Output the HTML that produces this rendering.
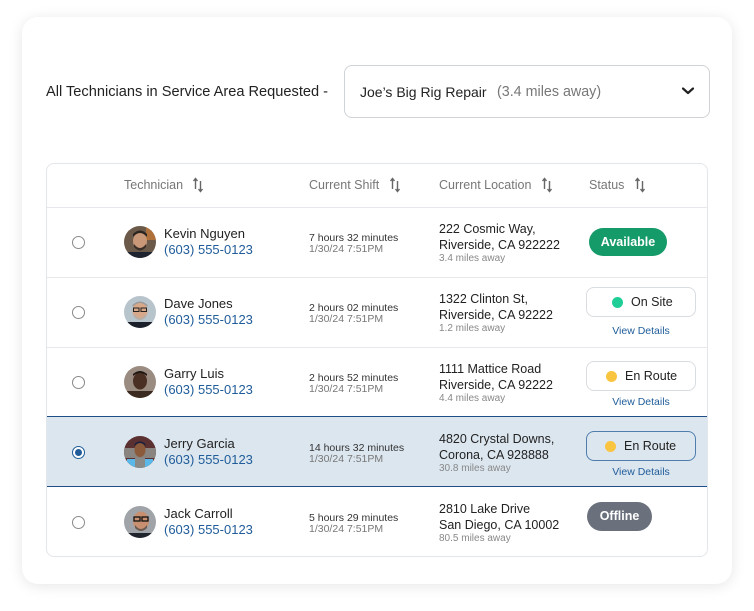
<!DOCTYPE html>
<html><head><meta charset="utf-8"><style>
*{margin:0;padding:0;box-sizing:border-box}
html,body{width:754px;height:611px;background:#fff;overflow:hidden;font-family:"Liberation Sans",Arial,sans-serif;color:#222}
.card{position:absolute;left:22px;top:17px;width:710px;height:567px;background:#fff;border-radius:16px;box-shadow:0 2px 14px rgba(0,0,0,0.10)}
.a{position:absolute;white-space:nowrap}
.title{left:46px;top:83px;font-size:14.6px;line-height:18px;color:#222}
.dd{left:344px;top:65px;width:366px;height:53px;border:1px solid #cfd3d8;border-radius:8px;background:#fff}
.tbl{left:46px;top:163px;width:662px;height:394px;border:1px solid #e3e6ea;border-radius:8px;background:#fff;overflow:hidden}
.hd{font-size:12.5px;color:#777;line-height:16px;top:177px}
.div{position:absolute;left:47px;width:660px;height:1px;background:#e6e8eb}
.sel{position:absolute;left:47px;top:416px;width:660px;height:71px;background:#dce6ef;border-top:1.5px solid #1f4f86;border-bottom:1.5px solid #1f4f86}
.radio{position:absolute;width:13px;height:13px;border:1px solid #8a8a8a;border-radius:50%;background:#fff}
.name{font-size:13px;color:#222;line-height:16px}
.phone{font-size:13px;color:#1f5c99;line-height:16px}
.sh1{font-size:10.5px;color:#333;line-height:13px}
.sh2{font-size:10.5px;color:#777;line-height:13px}
.loc{font-size:12.5px;color:#222;line-height:16px}
.mi{font-size:10px;color:#888;line-height:12px}
.pill{position:absolute;border-radius:15px;color:#fff;font-weight:bold;font-size:12.5px;text-align:center}
.btn{position:absolute;width:110px;height:30px;border:1px solid #d9dde2;border-radius:8px;background:#fff;font-size:12.5px;color:#222;line-height:28px}
.dot{position:absolute;width:11px;height:11px;border-radius:50%;top:9px}
.vd{font-size:10.5px;color:#1f5c99;line-height:13px;width:110px;text-align:center}
</style></head><body>
<div class="card"></div>
<div class="a title">All Technicians in Service Area Requested -</div>
<div class="a dd"></div>
<div class="a" style="left:360px;top:83px;font-size:14px;line-height:18px;color:#222">Joe’s Big Rig Repair</div>
<div class="a" style="left:497px;top:83px;font-size:14.3px;line-height:18px;color:#777">(3.4 miles away)</div>
<svg class="a" style="left:681px;top:86px" width="14" height="10" viewBox="0 0 14 10"><path d="M2 2.5 L7 7 L12 2.5" stroke="#222" stroke-width="2.2" fill="none" stroke-linecap="round" stroke-linejoin="round"/></svg>

<div class="a tbl"></div>
<div class="div" style="top:207px"></div>
<div class="div" style="top:277px"></div>
<div class="div" style="top:347px"></div>
<div class="sel"></div>

<div class="a hd" style="left:124px">Technician</div>
<div class="a hd" style="left:309px">Current Shift</div>
<div class="a hd" style="left:439px">Current Location</div>
<div class="a hd" style="left:589px">Status</div>
<svg class="a" style="left:192px;top:177px" width="12" height="16" viewBox="0 0 12 16"><path d="M3.5 12V2 M1.5 4 L3.5 1.5 L5.5 4" stroke="#666" stroke-width="1.4" fill="none"/><path d="M8.5 4v10 M6.5 12 L8.5 14.5 L10.5 12" stroke="#666" stroke-width="1.4" fill="none"/></svg>
<svg class="a" style="left:389px;top:177px" width="12" height="16" viewBox="0 0 12 16"><path d="M3.5 12V2 M1.5 4 L3.5 1.5 L5.5 4" stroke="#666" stroke-width="1.4" fill="none"/><path d="M8.5 4v10 M6.5 12 L8.5 14.5 L10.5 12" stroke="#666" stroke-width="1.4" fill="none"/></svg>
<svg class="a" style="left:541px;top:177px" width="12" height="16" viewBox="0 0 12 16"><path d="M3.5 12V2 M1.5 4 L3.5 1.5 L5.5 4" stroke="#666" stroke-width="1.4" fill="none"/><path d="M8.5 4v10 M6.5 12 L8.5 14.5 L10.5 12" stroke="#666" stroke-width="1.4" fill="none"/></svg>
<svg class="a" style="left:634px;top:177px" width="12" height="16" viewBox="0 0 12 16"><path d="M3.5 12V2 M1.5 4 L3.5 1.5 L5.5 4" stroke="#666" stroke-width="1.4" fill="none"/><path d="M8.5 4v10 M6.5 12 L8.5 14.5 L10.5 12" stroke="#666" stroke-width="1.4" fill="none"/></svg>

<!-- radios -->
<div class="radio" style="left:72px;top:236px"></div>
<div class="radio" style="left:72px;top:306px"></div>
<div class="radio" style="left:72px;top:376px"></div>
<div class="radio" style="left:72px;top:446px;border:1.5px solid #1f5c99;background:#fff"><div style="position:absolute;left:2px;top:2px;width:7px;height:7px;border-radius:50%;background:#1f5c99"></div></div>
<div class="radio" style="left:72px;top:516px"></div>

<!-- avatars -->
<svg class="a" style="left:124px;top:226px" width="32" height="32" viewBox="0 0 32 32"><clipPath id="c1"><circle cx="16" cy="16" r="16"/></clipPath><g clip-path="url(#c1)"><rect width="32" height="32" fill="#6b5a4a"/><rect x="22" y="0" width="10" height="14" fill="#b0703a"/><ellipse cx="16" cy="15" rx="7" ry="8.5" fill="#c89878"/><path d="M9 11 Q16 3 23 11 L23 8 Q16 1 9 8Z" fill="#2b2420"/><path d="M10 18 Q16 26 22 18 L22 21 Q16 28 10 21Z" fill="#3a2e28"/><rect x="3" y="26" width="26" height="8" fill="#1e2430"/></g></svg>
<svg class="a" style="left:124px;top:296px" width="32" height="32" viewBox="0 0 32 32"><clipPath id="c2"><circle cx="16" cy="16" r="16"/></clipPath><g clip-path="url(#c2)"><rect width="32" height="32" fill="#b8c4cc"/><ellipse cx="16" cy="15" rx="7.5" ry="9" fill="#d8a88a"/><path d="M8.5 11 Q16 3 23.5 11 L23.5 9 Q16 2 8.5 9Z" fill="#9a9a9a"/><path d="M10 18 Q16 26 22 18 L22 21 Q16 27 10 21Z" fill="#b5b0aa"/><rect x="9.5" y="12" width="5.5" height="3.5" fill="none" stroke="#222" stroke-width="1"/><rect x="17" y="12" width="5.5" height="3.5" fill="none" stroke="#222" stroke-width="1"/><rect x="2" y="26" width="28" height="8" fill="#1a1f2a"/></g></svg>
<svg class="a" style="left:124px;top:366px" width="32" height="32" viewBox="0 0 32 32"><clipPath id="c3"><circle cx="16" cy="16" r="16"/></clipPath><g clip-path="url(#c3)"><rect width="32" height="32" fill="#9a8c80"/><ellipse cx="16" cy="15" rx="7" ry="8.5" fill="#4a3022"/><path d="M9 10 Q16 4 23 10 L23 8 Q16 2 9 8Z" fill="#1e1612"/><rect x="3" y="25" width="26" height="8" fill="#3a2a20"/></g></svg>
<svg class="a" style="left:124px;top:436px" width="32" height="32" viewBox="0 0 32 32"><clipPath id="c4"><circle cx="16" cy="16" r="16"/></clipPath><g clip-path="url(#c4)"><rect width="32" height="32" fill="#5a3030"/><rect y="12" width="32" height="10" fill="#8a8480"/><ellipse cx="16" cy="14" rx="5.5" ry="7" fill="#8a5a3a"/><path d="M10.5 10 Q16 4 21.5 10 L21.5 8 Q16 3 10.5 8Z" fill="#1a2040"/><rect x="3" y="23" width="26" height="10" fill="#5ab8e8"/><rect x="11" y="22" width="10" height="10" fill="#8a8a88"/></g></svg>
<svg class="a" style="left:124px;top:506px" width="32" height="32" viewBox="0 0 32 32"><clipPath id="c5"><circle cx="16" cy="16" r="16"/></clipPath><g clip-path="url(#c5)"><rect width="32" height="32" fill="#a0a4a8"/><ellipse cx="17" cy="15" rx="8" ry="9.5" fill="#c89070"/><rect x="10" y="11" width="6" height="4" fill="none" stroke="#111" stroke-width="1.3"/><rect x="18" y="11" width="6" height="4" fill="none" stroke="#111" stroke-width="1.3"/><path d="M11 19 Q17 27 23 19 L23 22 Q17 28 11 22Z" fill="#6a5a50"/><rect x="2" y="27" width="28" height="8" fill="#20242c"/></g></svg>

<!-- names -->
<div class="a name" style="left:164px;top:226px">Kevin Nguyen</div>
<div class="a phone" style="left:164px;top:242px">(603) 555-0123</div>
<div class="a name" style="left:164px;top:296px">Dave Jones</div>
<div class="a phone" style="left:164px;top:312px">(603) 555-0123</div>
<div class="a name" style="left:164px;top:366px">Garry Luis</div>
<div class="a phone" style="left:164px;top:382px">(603) 555-0123</div>
<div class="a name" style="left:164px;top:436px">Jerry Garcia</div>
<div class="a phone" style="left:164px;top:452px">(603) 555-0123</div>
<div class="a name" style="left:164px;top:506px">Jack Carroll</div>
<div class="a phone" style="left:164px;top:522px">(603) 555-0123</div>

<!-- shift -->
<div class="a sh1" style="left:309px;top:232px">7 hours 32 minutes</div>
<div class="a sh2" style="left:309px;top:243px">1/30/24 7:51PM</div>
<div class="a sh1" style="left:309px;top:302px">2 hours 02 minutes</div>
<div class="a sh2" style="left:309px;top:313px">1/30/24 7:51PM</div>
<div class="a sh1" style="left:309px;top:372px">2 hours 52 minutes</div>
<div class="a sh2" style="left:309px;top:383px">1/30/24 7:51PM</div>
<div class="a sh1" style="left:309px;top:442px">14 hours 32 minutes</div>
<div class="a sh2" style="left:309px;top:453px">1/30/24 7:51PM</div>
<div class="a sh1" style="left:309px;top:512px">5 hours 29 minutes</div>
<div class="a sh2" style="left:309px;top:523px">1/30/24 7:51PM</div>

<!-- location -->
<div class="a loc" style="left:439px;top:221px">222 Cosmic Way,</div>
<div class="a loc" style="left:439px;top:237px">Riverside, CA 922222</div>
<div class="a mi" style="left:439px;top:253px">3.4 miles away</div>
<div class="a loc" style="left:439px;top:291px">1322 Clinton St,</div>
<div class="a loc" style="left:439px;top:307px">Riverside, CA 92222</div>
<div class="a mi" style="left:439px;top:323px">1.2 miles away</div>
<div class="a loc" style="left:439px;top:361px">1111 Mattice Road</div>
<div class="a loc" style="left:439px;top:377px">Riverside, CA 92222</div>
<div class="a mi" style="left:439px;top:393px">4.4 miles away</div>
<div class="a loc" style="left:439px;top:431px">4820 Crystal Downs,</div>
<div class="a loc" style="left:439px;top:447px">Corona, CA 928888</div>
<div class="a mi" style="left:439px;top:463px">30.8 miles away</div>
<div class="a loc" style="left:439px;top:501px">2810 Lake Drive</div>
<div class="a loc" style="left:439px;top:517px">San Diego, CA 10002</div>
<div class="a mi" style="left:439px;top:533px">80.5 miles away</div>

<!-- status -->
<div class="pill" style="left:589px;top:228px;width:78px;height:28px;line-height:28px;background:#159b6a">Available</div>

<div class="btn" style="left:586px;top:287px"><div class="dot" style="left:25px;background:#1fce96"></div><span style="position:absolute;left:44px">On Site</span></div>
<div class="a vd" style="left:586px;top:325px">View Details</div>

<div class="btn" style="left:586px;top:361px"><div class="dot" style="left:19px;background:#f9c440"></div><span style="position:absolute;left:38px">En Route</span></div>
<div class="a vd" style="left:586px;top:396px">View Details</div>

<div class="btn" style="left:586px;top:431px;border:1.5px solid #4f7ead;background:#dce6ef"><div class="dot" style="left:18px;background:#f9c440"></div><span style="position:absolute;left:37px">En Route</span></div>
<div class="a vd" style="left:586px;top:466px">View Details</div>

<div class="pill" style="left:587px;top:502px;width:65px;height:29px;line-height:29px;background:#6b717c">Offline</div>
</body></html>
